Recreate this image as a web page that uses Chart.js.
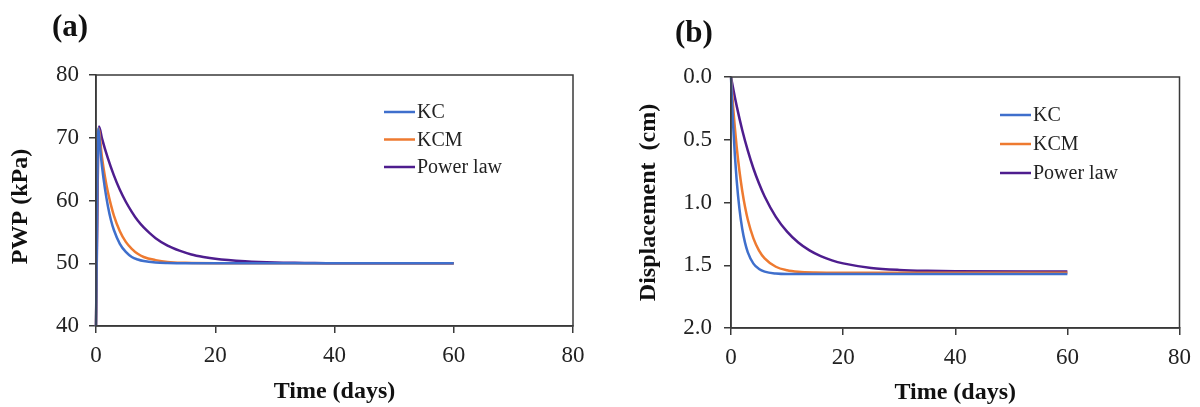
<!DOCTYPE html>
<html>
<head>
<meta charset="utf-8">
<script src="https://cdn.jsdelivr.net/npm/chart.js@4.4.1/dist/chart.umd.min.js"></script>
<style>
  body { margin: 0; background: #fff; }
  .wrap { position: relative; width: 1200px; height: 407px; overflow: hidden; }
  .panel { position: absolute; top: 0; width: 600px; height: 407px; }
  .tag { position: absolute; font: bold 31px "Liberation Serif", serif; color: #111; }
</style>
</head>
<body>
<div class="wrap">
  <div class="panel" style="left:0"><canvas id="chartA" width="600" height="407"></canvas></div>
  <div class="panel" style="left:600px"><canvas id="chartB" width="600" height="407"></canvas></div>
  <div class="tag" style="left:52px; top:8px">(a)</div>
  <div class="tag" style="left:675px; top:14px">(b)</div>
</div>
<script>
// series names + colours
const seriesNames = ['KC', 'KCM', 'Power law'];
const seriesColors = ['#3F6FCC', '#EE7A30', '#4E1D8E'];

// (a) pore water pressure, kPa
const kcTimeA  = [0, 0.4, 0.7, 1, 1.5, 2, 2.5, 3, 4, 5, 6, 7, 8, 10, 12, 15, 60];
const kcPwp    = [40, 71.5, 68.3, 65.5, 61.9, 59.1, 56.9, 55.3, 53.1, 51.8, 51.0, 50.6, 50.35, 50.12, 50.04, 50, 50];
const kcmTimeA = [0, 0.4, 1, 1.5, 2, 2.5, 3, 4, 5, 6, 7, 8, 10, 12, 15, 20, 60];
const kcmPwp   = [40, 71.5, 66.9, 63.8, 61.3, 59.3, 57.6, 55.1, 53.4, 52.3, 51.5, 51.0, 50.5, 50.2, 50.06, 50, 50];
const plTimeA  = [0, 0.5, 1, 2, 3, 4, 5, 6, 7, 8, 9, 10, 12, 14, 16, 18, 20, 25, 30, 35, 40, 60];
const plPwp    = [40, 71.8, 69.9, 66.7, 64.0, 61.7, 59.8, 58.2, 56.8, 55.7, 54.8, 54.0, 52.8, 52.0, 51.4, 51.0, 50.7, 50.3, 50.1, 50.05, 50, 50];

// (b) displacement, cm
const kcTimeB  = [0, 0.2, 0.4, 0.7, 1, 1.5, 2, 2.5, 3, 4, 5, 6, 8, 10, 60];
const kcDisp   = [0, 0.215, 0.40, 0.63, 0.818, 1.049, 1.209, 1.32, 1.397, 1.487, 1.53, 1.551, 1.566, 1.57, 1.57];
const kcmTimeB = [0, 0.2, 0.4, 0.7, 1, 1.5, 2, 2.5, 3, 4, 5, 6, 8, 10, 12, 15, 20, 60];
const kcmDisp  = [0, 0.13, 0.249, 0.409, 0.55, 0.747, 0.906, 1.034, 1.137, 1.286, 1.383, 1.445, 1.512, 1.54, 1.552, 1.558, 1.56, 1.56];
const plTimeB  = [0, 0.5, 1, 2, 3, 4, 5, 6, 8, 10, 12, 14, 16, 18, 20, 25, 30, 35, 40, 60];
const plDisp   = [0, 0.118, 0.228, 0.422, 0.587, 0.729, 0.849, 0.952, 1.114, 1.232, 1.319, 1.382, 1.428, 1.461, 1.485, 1.521, 1.537, 1.544, 1.547, 1.55];

const xTicks = [0, 20, 40, 60, 80];

function pts(xs, ys) {
  return xs.map((x, i) => ({ x: x, y: ys[i] }));
}

const serif = '"Liberation Serif", "Times New Roman", serif';
const axisCol = '#3a3a3a';

// box round the plot + legend drawn inside the plot area
const boxLegend = {
  id: 'boxLegend',
  afterDraw(chart, args, opts) {
    const c = chart.ctx, a = chart.chartArea;
    c.save();
    c.strokeStyle = axisCol;
    c.lineWidth = 1.5;
    c.strokeRect(a.left, a.top, a.right - a.left, a.bottom - a.top);
    c.font = '20px ' + serif;
    c.textBaseline = 'middle';
    c.fillStyle = '#222';
    for (let i = 0; i < seriesNames.length; i++) {
      const y = opts.y + i * opts.gap;
      c.strokeStyle = seriesColors[i];
      c.lineWidth = 2.5;
      c.beginPath();
      c.moveTo(opts.x, y);
      c.lineTo(opts.x + 31, y);
      c.stroke();
      c.fillText(seriesNames[i], opts.x + 33, y + 1);
    }
    c.restore();
  }
};

function makeChart(id, sets, yOpts, pad, yWidth, xHeight, xTitlePad, legendPos) {
  new Chart(document.getElementById(id), {
    type: 'line',
    data: {
      datasets: sets.map((s, i) => ({
        label: seriesNames[i],
        data: s,
        borderColor: seriesColors[i],
        borderWidth: 2.5,
        pointRadius: 0,
        cubicInterpolationMode: 'monotone',
        fill: false,
        clip: false
      }))
    },
    options: {
      responsive: false,
      animation: false,
      layout: { padding: pad },
      plugins: { legend: { display: false }, tooltip: { enabled: false }, boxLegend: legendPos },
      scales: {
        x: {
          type: 'linear', min: 0, max: 80,
          afterBuildTicks: s => { s.ticks = xTicks.map(v => ({ value: v })); },
          afterFit: s => { s.height = xHeight; },
          border: { color: axisCol, width: 1.5 },
          grid: { drawOnChartArea: false, drawTicks: true, tickLength: 7, color: axisCol, lineWidth: 1.5 },
          ticks: { color: '#222', font: { family: serif, size: 23 }, padding: 9, maxRotation: 0 },
          title: { display: true, text: 'Time (days)', color: '#111', font: { family: serif, size: 24, weight: 'bold' }, padding: { top: 0, bottom: xTitlePad } }
        },
        y: Object.assign({
          type: 'linear',
          afterFit: s => { s.width = yWidth; },
          border: { color: axisCol, width: 1.5 },
          grid: { drawOnChartArea: false, drawTicks: true, tickLength: 7, color: axisCol, lineWidth: 1.5 }
        }, yOpts)
      }
    },
    plugins: [boxLegend]
  });
}

makeChart('chartA',
  [pts(kcTimeA, kcPwp), pts(kcmTimeA, kcmPwp), pts(plTimeA, plPwp)],
  {
    min: 40, max: 80,
    ticks: { stepSize: 10, color: '#222', font: { family: serif, size: 23 }, padding: 10 },
    title: { display: true, text: 'PWP (kPa)  ', color: '#111', font: { family: serif, size: 24, weight: 'bold' }, padding: { top: 6, bottom: 0 } }
  },
  { top: 75, right: 27, left: 0, bottom: 0 }, 96, 81, 1,
  { x: 384, y: 112, gap: 27.5 });

makeChart('chartB',
  [pts(kcTimeB, kcDisp), pts(kcmTimeB, kcmDisp), pts(plTimeB, plDisp)],
  {
    min: 0, max: 2, reverse: true,
    ticks: { stepSize: 0.5, color: '#222', font: { family: serif, size: 23 }, padding: 12, callback: v => v.toFixed(1) },
    title: { display: true, text: 'Displacement  (cm)', color: '#111', font: { family: serif, size: 24, weight: 'bold' }, padding: { top: 34, bottom: 0 } }
  },
  { top: 77, right: 17, left: 0, bottom: 0 }, 131, 79, 0,
  { x: 400, y: 115, gap: 29 });
</script>
</body>
</html>
